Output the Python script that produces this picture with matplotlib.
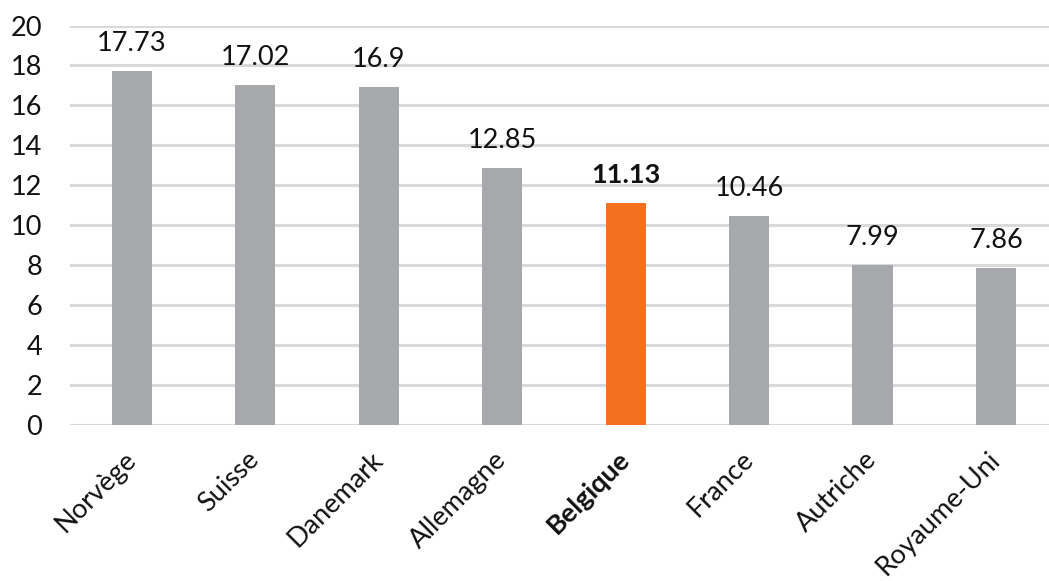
import matplotlib
matplotlib.use("Agg")
import matplotlib.pyplot as plt

countries = ["Norvège", "Suisse", "Danemark", "Allemagne", "Belgique", "France", "Autriche", "Royaume-Uni"]
values = [17.73, 17.02, 16.9, 12.85, 11.13, 10.46, 7.99, 7.86]
value_labels = ["17.73", "17.02", "16.9", "12.85", "11.13", "10.46", "7.99", "7.86"]
highlight = "Belgique"
yticks = [0, 2, 4, 6, 8, 10, 12, 14, 16, 18, 20]

GREY = "#A7A8AB"
ORANGE = "#F37021"
GRID = "#D9D9D9"
FS = 19.5

plt.rcParams["font.family"] = ["Lato", "DejaVu Sans"]

W, H = 1049, 581
fig = plt.figure(figsize=(W / 100, H / 100), dpi=100)
ax = fig.add_axes([70 / W, 1 - 425 / H, 1 - 70 / W, (425 - 25.5) / H])

x = list(range(len(countries)))
colors = [ORANGE if c == highlight else GREY for c in countries]
ax.bar(x, values, width=0.325, color=colors, zorder=3)

for xi, v, lab, c in zip(x, values, value_labels, countries):
    ax.annotate(lab, (xi, v), xytext=(0, 14.5), textcoords="offset points",
                ha="center", va="baseline", fontsize=FS, color="#111111",
                fontweight="bold" if c == highlight else "normal")

ax.set_ylim(0, 20)
ax.set_xlim(-0.502, 7.43)
ax.set_yticks(yticks)
ax.set_yticklabels([str(t) for t in yticks], fontsize=FS, color="#111111")
ax.yaxis.grid(True, color=GRID, linewidth=2.2, zorder=0)
ax.set_axisbelow(True)
ax.tick_params(axis="both", length=0)
ax.tick_params(axis="y", pad=20)
ax.set_xticks(x)
ax.set_xticklabels(countries, rotation=45, ha="right", va="center",
                   rotation_mode="anchor", fontsize=FS, color="#111111")
ax.tick_params(axis="x", pad=22)
for lbl in ax.get_xticklabels():
    if lbl.get_text() == highlight:
        lbl.set_fontweight("bold")
for s in ax.spines.values():
    s.set_visible(False)

fig.savefig("out.png", dpi=100)
